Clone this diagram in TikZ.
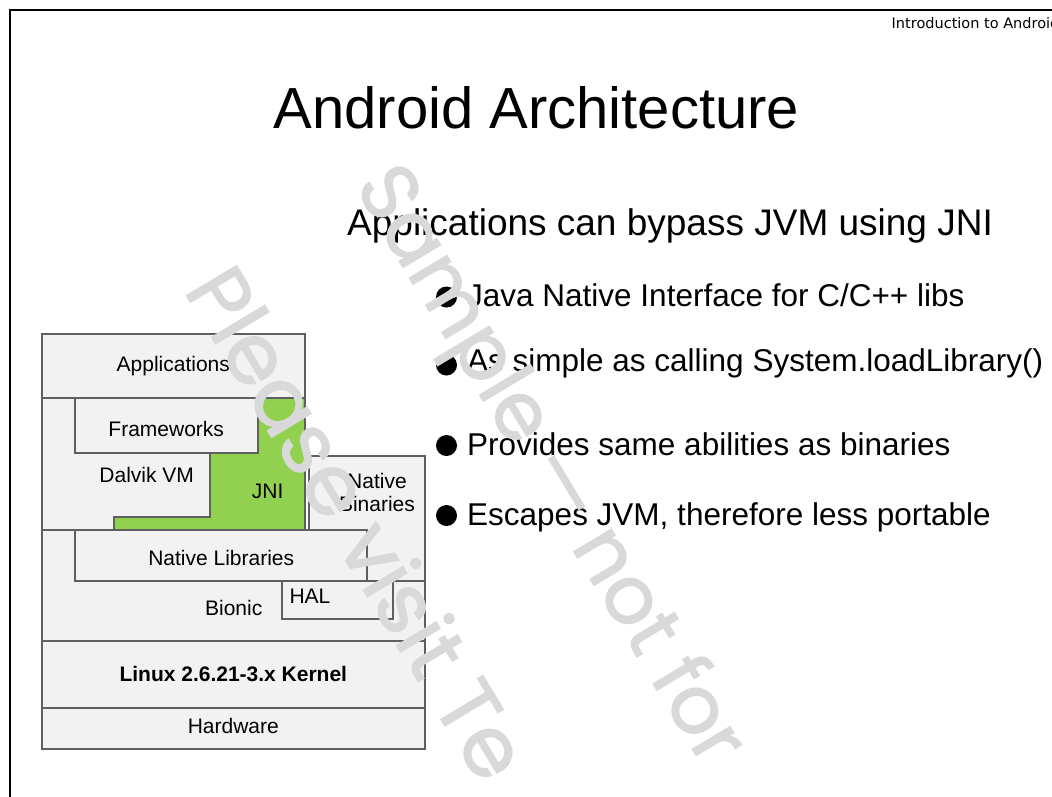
\documentclass[tikz,border=0pt]{standalone}
\usepackage{fontspec}
\setmainfont{Liberation Sans}
\newfontfamily\wmfont{Poppins}[FakeBold=1.6]
\newfontfamily\hdfont{DejaVu Sans}
\usetikzlibrary{positioning}
\definecolor{layerfill}{HTML}{F2F2F2}
\definecolor{layerline}{HTML}{5F5F5F}
\definecolor{jnigreen}{HTML}{92D050}
\definecolor{wmgray}{HTML}{D9D9D9}
\newcommand{\hdsize}{\hdfont\fontsize{14.5}{17}\selectfont}
\newcommand{\ttlsize}{\fontsize{58}{66}\selectfont}
\newcommand{\subsize}{\fontsize{37}{42}\selectfont}
\newcommand{\bltsize}{\fontsize{31.5}{36}\selectfont}
\newcommand{\lbsize}{\fontsize{21}{24}\selectfont}
\tikzset{
  layer/.style={fill=layerfill,draw=layerline,line width=1.2pt},
  lbl/.style={font=\lbsize,anchor=base,inner sep=0pt},
  blt/.style={font=\bltsize,anchor=base west,inner sep=0pt},
  bdot/.style={circle,fill=black,inner sep=0pt,minimum size=21pt},
  wmark/.style={font=\wmfont\fontsize{80}{90}\selectfont,text=wmgray,rotate=-59,anchor=base west,inner sep=0pt}
}

\begin{document}
\begin{tikzpicture}[x=1pt,y=-1pt]
\useasboundingbox (0,0) rectangle (1052,796);
\clip (0,0) rectangle (1052,796);
%slide frame
\draw[line width=2.2pt] (9.7,800) -- (9.7,10) -- (1060,10);
\node[anchor=base west,inner sep=0pt,font=\hdsize] (header) at (891.5,28.5) {Introduction to Android};
\node[anchor=base,inner sep=0pt,font=\ttlsize] (title) at (536.5,128.3) {Android Architecture};
\node[anchor=base west,inner sep=0pt,font=\subsize] (sub) at (347,235) {Applications can bypass JVM using JNI};
%bullets
\node[blt] (jni) at (467,306.7) {Java Native Interface for C/C++ libs};
\node[blt] (load) at (467,371.7) {As simple as calling System.loadLibrary()};
\node[blt] (abil) at (467,455) {Provides same abilities as binaries};
\node[blt] (port) at (467,525) {Escapes JVM, therefore less portable};
\node[bdot] (d1) at (446.5,297) {};
\node[bdot] (d2) at (446.5,365) {};
\node[bdot] (d3) at (446.5,445.5) {};
\node[bdot] (d4) at (446.5,515.5) {};
%architecture stack
\draw[layer] (42,708) rectangle (425,749);
\draw[layer] (42,641) rectangle (425,708);
\draw[layer] (42,530) rectangle (425,641);
\draw[layer] (309,456) rectangle (425,581);
\draw[layer] (75,530) rectangle (367,581);
\draw[layer] (282,581) rectangle (393,619);
\draw[layer] (42,334) rectangle (305,398);
\draw[layer] (42,398) rectangle (305,530);
\draw[layer] (75,398) rectangle (258,453);
\draw[layer,fill=jnigreen] (258,398) -- (305,398) -- (305,530) -- (114,530)
  -- (114,517) -- (210,517) -- (210,453) -- (258,453) -- cycle;
\node[lbl] (apps) at (173.3,371.7) {Applications};
\node[lbl] (fw) at (166.2,436.7) {Frameworks};
\node[lbl] (dvm) at (146.7,482.3) {Dalvik VM};
\node[lbl,anchor=base west] (jnilbl) at (251.7,498.3) {JNI};
\node[lbl] (nbin) at (377,488.3) {Native};
\node[lbl] (nbin2) at (377,511.7) {Binaries};
\node[lbl] (nlib) at (221.2,565) {Native Libraries};
\node[lbl] (bionic) at (233.7,615.7) {Bionic};
\node[lbl] (hal) at (310,603.3) {HAL};
\node[lbl,font=\lbsize\bfseries] (kernel) at (233.3,681.7) {Linux 2.6.21-3.x Kernel};
\node[lbl] (hw) at (233.3,733.3) {Hardware};
%watermark
\node[wmark] (wm1) at (354,186) {Sample — not for};
\node[wmark,font=\wmfont\fontsize{84}{90}\selectfont] (wm2) at (183,290) {Please visit Te};
\end{tikzpicture}
\end{document}
